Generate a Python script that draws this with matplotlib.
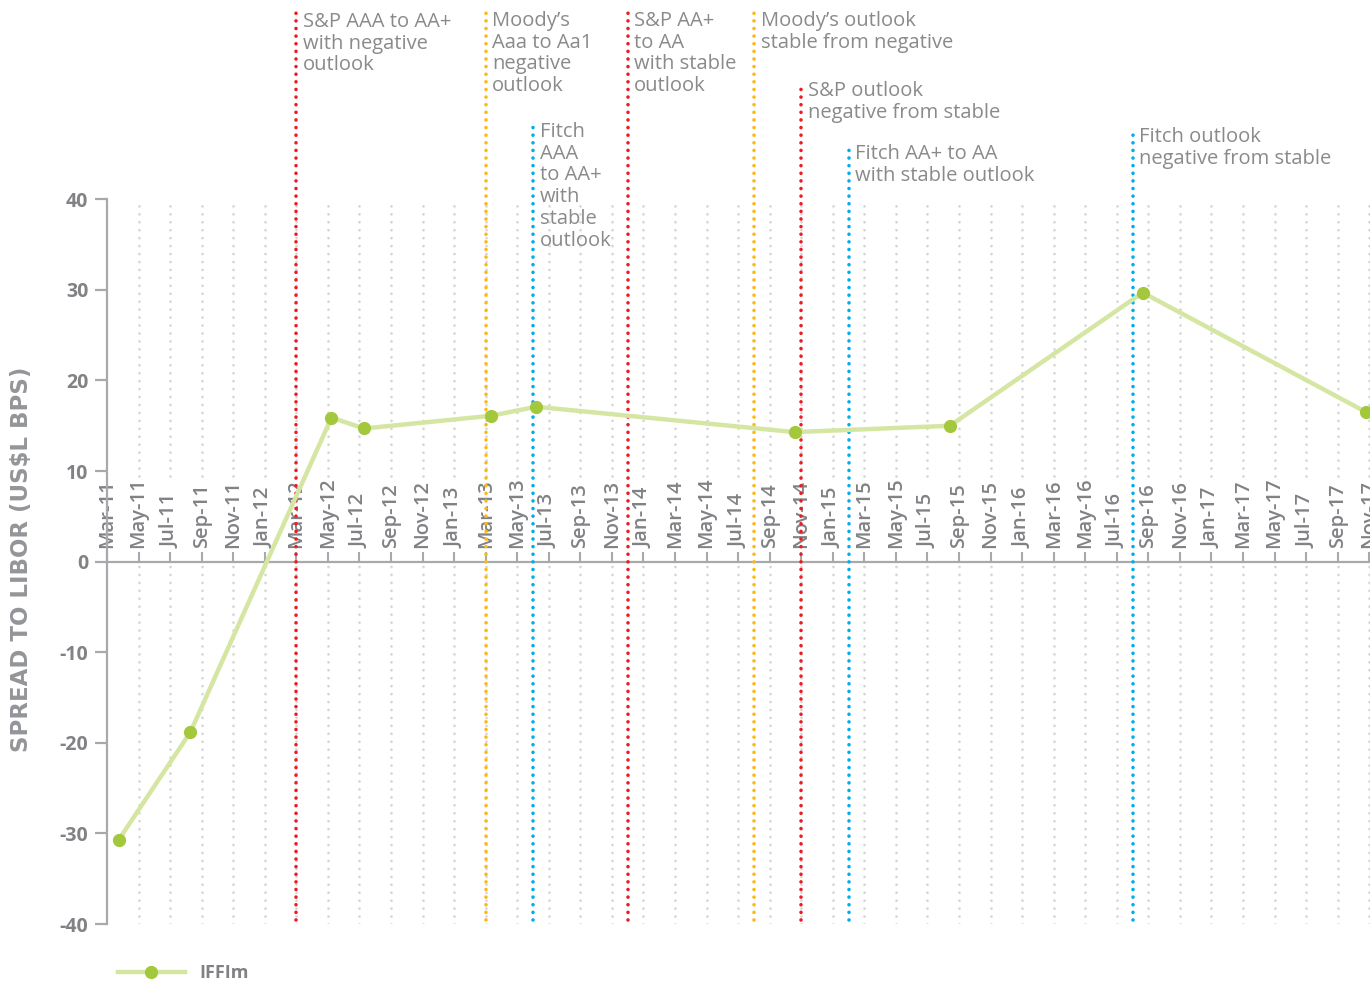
import numpy as np
import pandas as pd
from matplotlib import pyplot as plt
from matplotlib.lines import Line2D

plt.rcParams["font.family"] = ["Open Sans", "DejaVu Sans"]
plt.rcParams["axes.unicode_minus"] = False

# IFFIm spread to USD Libor (bps)
obs_dates = ["2011-03-24", "2011-08-10", "2012-05-08", "2012-07-10", "2013-03-11",
             "2013-06-07", "2014-10-19", "2015-08-14", "2016-08-21", "2017-10-26"]
spread_bps = [-30.7, -18.8, 15.9, 14.7, 16.1, 17.1, 14.3, 15.0, 29.7, 16.5]

# rating actions
event_dates = ["2012-03-01", "2013-03-01", "2013-06-01", "2013-12-01",
               "2014-08-01", "2014-11-01", "2015-02-01", "2016-08-01"]
event_agency = ["S&P", "Moody's", "Fitch", "S&P", "Moody's", "S&P", "Fitch", "Fitch"]
event_text = [
    "S&P AAA to AA+\nwith negative\noutlook",
    "Moody\u2019s\nAaa to Aa1\nnegative\noutlook",
    "Fitch\nAAA\nto AA+\nwith\nstable\noutlook",
    "S&P AA+\nto AA\nwith stable\noutlook",
    "Moody\u2019s outlook\nstable from negative",
    "S&P outlook\nnegative from stable",
    "Fitch AA+ to AA\nwith stable outlook",
    "Fitch outlook\nnegative from stable",
]
# where each callout starts, pixels from the top of the picture
event_top_px = [13, 12, 123, 12, 12, 82, 145, 128]

tick_dates = pd.date_range("2011-03-01", "2017-11-01", freq="2MS")
tick_labels = list(tick_dates.strftime("%b-%y"))

agency_colors = {"S&P": "#ec1c24", "Moody's": "#fdb913", "Fitch": "#00aeef"}
GREY = "#808285"
AXIS_GREY = "#a7a9ac"


def to_month(d):
    # months since Mar-11
    t = pd.Timestamp(d)
    return (t.year - 2011) * 12 + t.month - 3 + (t.day - 1) / t.days_in_month


W, H = 1370, 982
fig = plt.figure(figsize=(W / 100, H / 100), dpi=100)
ax = fig.add_axes([107 / W, 58 / H, 1263 / W, 924 / H])
ax.set_xlim(0, 80.05)
ax.set_ylim(-40, 62)


def px_to_y(p):
    return (562 - p) / 9.06


tick_x = [to_month(d) for d in tick_dates]

# grey dotted grid, broken where the month labels sit
for gx in tick_x[1:]:
    for y0, y1 in [(9.4, 40), (-40, 0)]:
        ax.plot([gx, gx], [y0, y1], color="#d6d6d6", lw=2.0,
                linestyle=(0, (0.01, 2.85)), dash_capstyle="round", zorder=1)

# month labels above the zero line
for lab, tx in zip(tick_labels, tick_x):
    ax.text(tx, 1.5, lab, rotation=90, ha="center", va="bottom",
            fontsize=14.5, fontweight="semibold", color=GREY, zorder=2)

# rating event lines and callouts
for d, ag, txt, top in zip(event_dates, event_agency, event_text, event_top_px):
    ex = to_month(d)
    ax.plot([ex, ex], [-39.6, px_to_y(top)], color=agency_colors[ag], lw=2.6,
            linestyle=(0, (0.01, 2.1)), dash_capstyle="round", zorder=3, clip_on=False)
    ax.text(ex + 0.42, px_to_y(top - 1), txt, ha="left", va="top", fontsize=14.5,
            color="#8a8a8a", linespacing=1.12, zorder=4)

# the spread series
xs = [to_month(d) for d in obs_dates]
ax.plot(xs, spread_bps, color="#d4e6a2", lw=3.2, marker="o", ms=8.5,
        mfc="#a3c83b", mec="#a3c83b", zorder=5)

# axes styling
for s in ["top", "right"]:
    ax.spines[s].set_visible(False)
ax.spines["bottom"].set_position(("data", 0))
ax.spines["bottom"].set_color(AXIS_GREY)
ax.spines["bottom"].set_linewidth(1.6)
ax.spines["left"].set_color(AXIS_GREY)
ax.spines["left"].set_linewidth(1.6)
ax.spines["left"].set_bounds(-40, 40)

ax.set_xticks(tick_x)
ax.tick_params(axis="x", direction="in", length=7, width=1.5, color=AXIS_GREY,
               labelbottom=False)
ax.set_yticks(np.arange(-40, 41, 10))
ax.tick_params(axis="y", direction="out", length=8.5, width=1.6, color=AXIS_GREY,
               labelcolor=GREY, labelsize=14, pad=5)
for t in ax.get_yticklabels():
    t.set_fontweight("bold")

fig.text(22 / W, 1 - 559 / H, "SPREAD TO LIBOR (US$L BPS)", rotation=90,
         ha="center", va="center", fontsize=16.5, fontweight="bold",
         color="#939598", family="DejaVu Sans")

handle = Line2D([], [], color="#d4e6a2", lw=3.2, marker="o", ms=8.5,
                mfc="#a3c83b", mec="#a3c83b")
fig.legend(handles=[handle], labels=["IFFIm"], loc="center left",
           bbox_to_anchor=(118 / W, 1 - 973 / H), frameon=False, numpoints=1,
           handlelength=3.7, handletextpad=0.8, borderpad=0, borderaxespad=0,
           prop={"weight": "bold", "size": 13}, labelcolor=GREY)

fig.savefig("out.png", dpi=100)
